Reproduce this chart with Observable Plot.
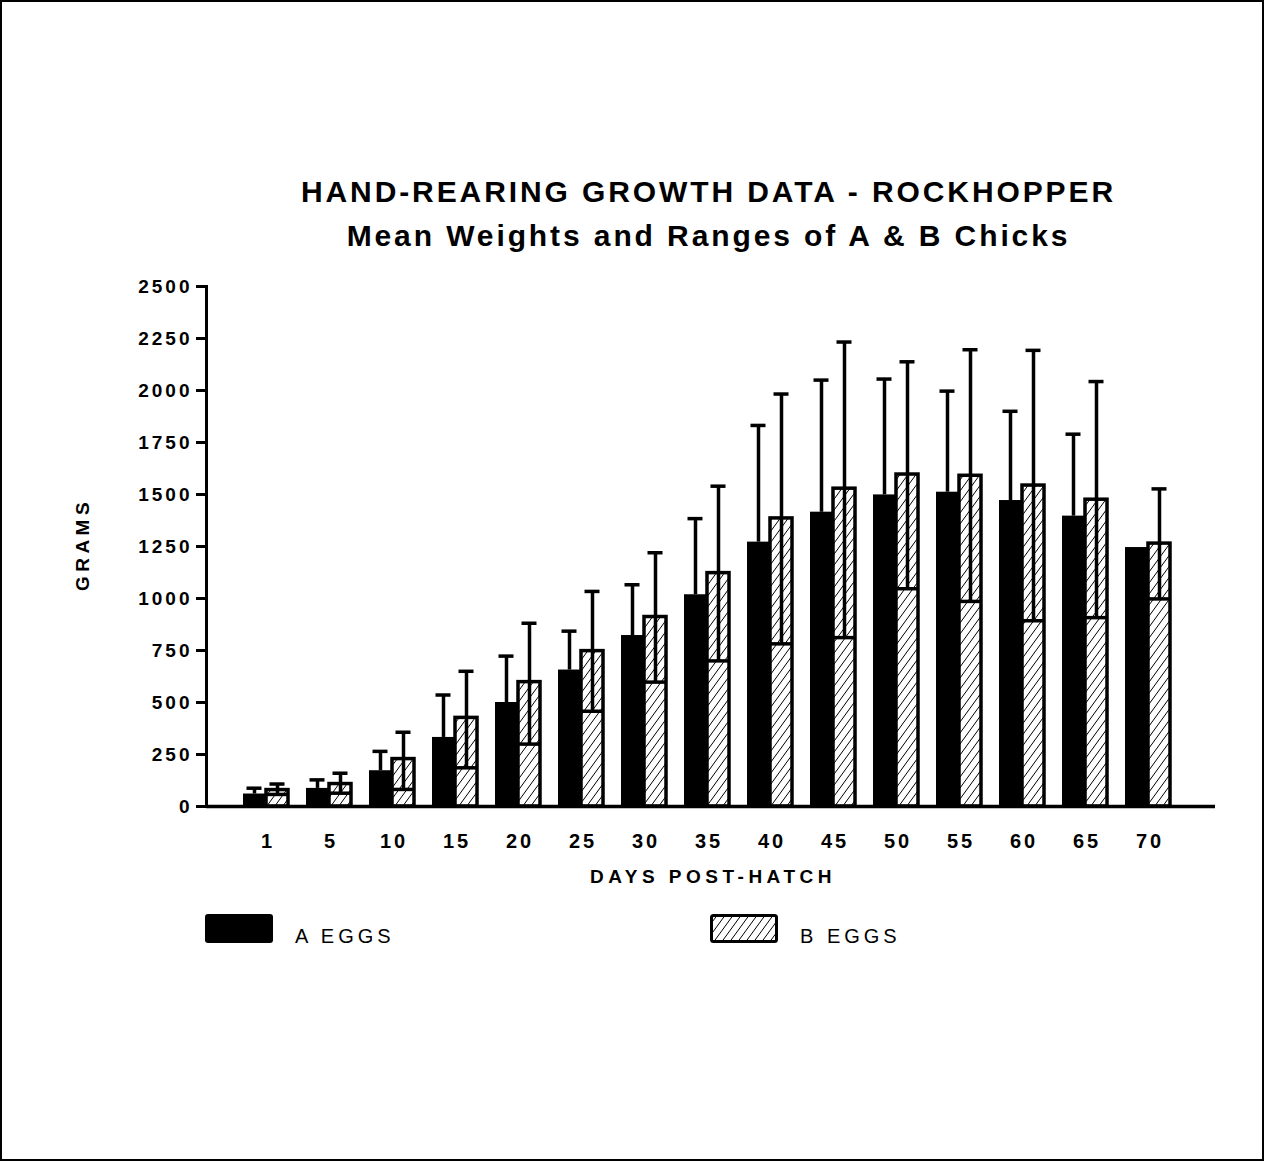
<!DOCTYPE html>
<html>
<head>
<meta charset="utf-8">
<script src="https://cdn.jsdelivr.net/npm/d3@7"></script>
<script src="https://cdn.jsdelivr.net/npm/@observablehq/plot@0.6"></script>
<style>
  body { margin: 0; background: #fff; }
  #page { position: relative; width: 1265px; height: 1162px; overflow: hidden; font-family: "Liberation Sans", Arial, sans-serif; color: #000; }
  #border { position: absolute; left: 0; top: 0; width: 1264px; height: 1161px; box-sizing: border-box; border: 2px solid #000; pointer-events: none; }
  .title { position: absolute; left: 207px; width: 1000px; text-align: center; font-weight: bold; font-size: 30px; letter-spacing: 2.9px; line-height: 1; white-space: nowrap; padding-left: 3px; box-sizing: border-box; }
  #chart { position: absolute; left: 0; top: 260px; }
  .sw { position: absolute; top: 914px; width: 68px; height: 29px; }
  .lt { position: absolute; top: 926px; font-size: 20px; line-height: 1; letter-spacing: 4px; white-space: nowrap; }
</style>
</head>
<body>
<div id="page">
  <div class="title" style="top:177px">HAND-REARING GROWTH DATA - ROCKHOPPER</div>
  <div class="title" style="top:221px">Mean Weights and Ranges of A &amp; B Chicks</div>
  <div id="chart"></div>
  <div class="sw" style="left:205px;background:#000;border-radius:3px"></div>
  <div class="lt" style="left:295px">A EGGS</div>
  <svg class="sw" style="left:710px" width="68" height="29">
    <defs>
      <pattern id="hatchLegend" patternUnits="userSpaceOnUse" width="8" height="11">
        <rect width="8" height="11" fill="#fff"/>
        <path d="M0,11L8,0M-1,1.375L1,-1.375M7,12.375L9,9.625" stroke="#000" stroke-width="1"/>
      </pattern>
    </defs>
    <rect x="1.5" y="1.5" width="65" height="26" rx="2" fill="url(#hatchLegend)" stroke="#000" stroke-width="3"/>
  </svg>
  <div class="lt" style="left:800px">B EGGS</div>
  <div id="border"></div>
</div>
<script>
// ---- data ----
const days  = ["1","5","10","15","20","25","30","35","40","45","50","55","60","65","70"];
const aMean = [60, 87, 172, 332, 500, 656, 822, 1018, 1271, 1415, 1498, 1511, 1471, 1396, 1245];
const aMax  = [88, 128, 265, 536, 723, 843, 1066, 1384, 1832, 2050, 2055, 1997, 1900, 1790, null];
const bMean = [79, 108, 228, 426, 598, 747, 911, 1122, 1385, 1528, 1596, 1590, 1543, 1475, 1264];
const bMin  = [58, 64, 82, 186, 300, 458, 598, 700, 782, 812, 1047, 986, 893, 908, 998];
const bMax  = [108, 160, 357, 650, 881, 1034, 1220, 1540, 1983, 2233, 2138, 2196, 2193, 2043, 1527];
const yTicks = [0, 250, 500, 750, 1000, 1250, 1500, 1750, 2000, 2250, 2500];

const rows = days.map((d, i) => ({day: d, aMean: aMean[i], aMax: aMax[i], bMean: bMean[i], bMin: bMin[i], bMax: bMax[i]}));
const rowsA = rows.filter(r => r.aMax != null);

const half = 23;   // half of the pair width (px)
const capHalf = 8; // half cap width (px)
const lw = 3.5;

const svg = Plot.plot({
  width: 1265,
  height: 640,
  marginTop: 26,
  marginBottom: 94,
  marginLeft: 206,
  marginRight: 50,
  style: {fontFamily: "'Liberation Sans', Arial, sans-serif", background: "transparent", color: "#000", overflow: "visible"},
  x: {type: "band", domain: days, range: [228, 1186], paddingInner: 0.28, paddingOuter: 0.14},
  y: {domain: [0, 2500]},
  marks: [
    Plot.axisY({ticks: yTicks, tickFormat: d => String(d), tickSize: 10, tickPadding: 4, strokeWidth: 3, fontSize: 19, fontWeight: "bold", label: null}),
    Plot.axisX({tickSize: 0, tickPadding: 27, fontSize: 20, fontWeight: "bold", label: null, dx: 2}),
    // A eggs bars (solid)
    Plot.barY(rows, {x: "day", y: "aMean", fill: "#000", insetRight: half}),
    // B eggs bars (hatched, outlined)
    Plot.barY(rows, {x: "day", y: "bMean", fill: "url(#hatch)", stroke: "#000", strokeWidth: lw, insetLeft: half}),
    // A ranges
    Plot.ruleX(rowsA, {x: "day", y1: "aMean", y2: "aMax", dx: -half / 2, stroke: "#000", strokeWidth: lw}),
    Plot.tickY(rowsA, {x: "day", y: "aMax", insetLeft: half / 2 - capHalf, insetRight: half + half / 2 - capHalf, stroke: "#000", strokeWidth: lw}),
    // B ranges
    Plot.ruleX(rows, {x: "day", y1: "bMin", y2: "bMax", dx: half / 2, stroke: "#000", strokeWidth: lw}),
    Plot.tickY(rows, {x: "day", y: "bMin", insetLeft: half, stroke: "#000", strokeWidth: lw}),
    Plot.tickY(rows, {x: "day", y: "bMax", insetLeft: half + half / 2 - capHalf, insetRight: half / 2 - capHalf, stroke: "#000", strokeWidth: lw}),
    // axis lines
    Plot.frame({anchor: "left", stroke: "#000", strokeWidth: 3}),
    Plot.ruleY([0], {stroke: "#000", strokeWidth: 3.5}),
    // axis titles
    Plot.text(["DAYS POST-HATCH"], {frameAnchor: "bottom", dy: 76, dx: 2, fontSize: 19, fontWeight: "bold"}),
    Plot.text(["GRAMS"], {frameAnchor: "left", textAnchor: "middle", rotate: -90, dx: -124, dy: -2, fontSize: 19, fontWeight: "bold"})
  ]
});

// hatch pattern definition
const ns = "http://www.w3.org/2000/svg";
const defs = document.createElementNS(ns, "defs");
defs.innerHTML = '<pattern id="hatch" patternUnits="userSpaceOnUse" width="8" height="11">' +
  '<rect width="8" height="11" fill="#fff"/>' +
  '<path d="M0,11L8,0M-1,1.375L1,-1.375M7,12.375L9,9.625" stroke="#000" stroke-width="1"/></pattern>';
svg.insertBefore(defs, svg.firstChild);

const s = d3.select(svg);
s.selectAll('g[aria-label="y-axis tick label"] text').style("letter-spacing", "3px");
s.selectAll('g[aria-label="x-axis tick label"] text').style("letter-spacing", "3px");
s.selectAll("text").filter(function() { return this.textContent === "DAYS POST-HATCH" || this.textContent === "GRAMS"; })
  .style("letter-spacing", "4.5px");

document.getElementById("chart").appendChild(svg);
</script>
</body>
</html>
